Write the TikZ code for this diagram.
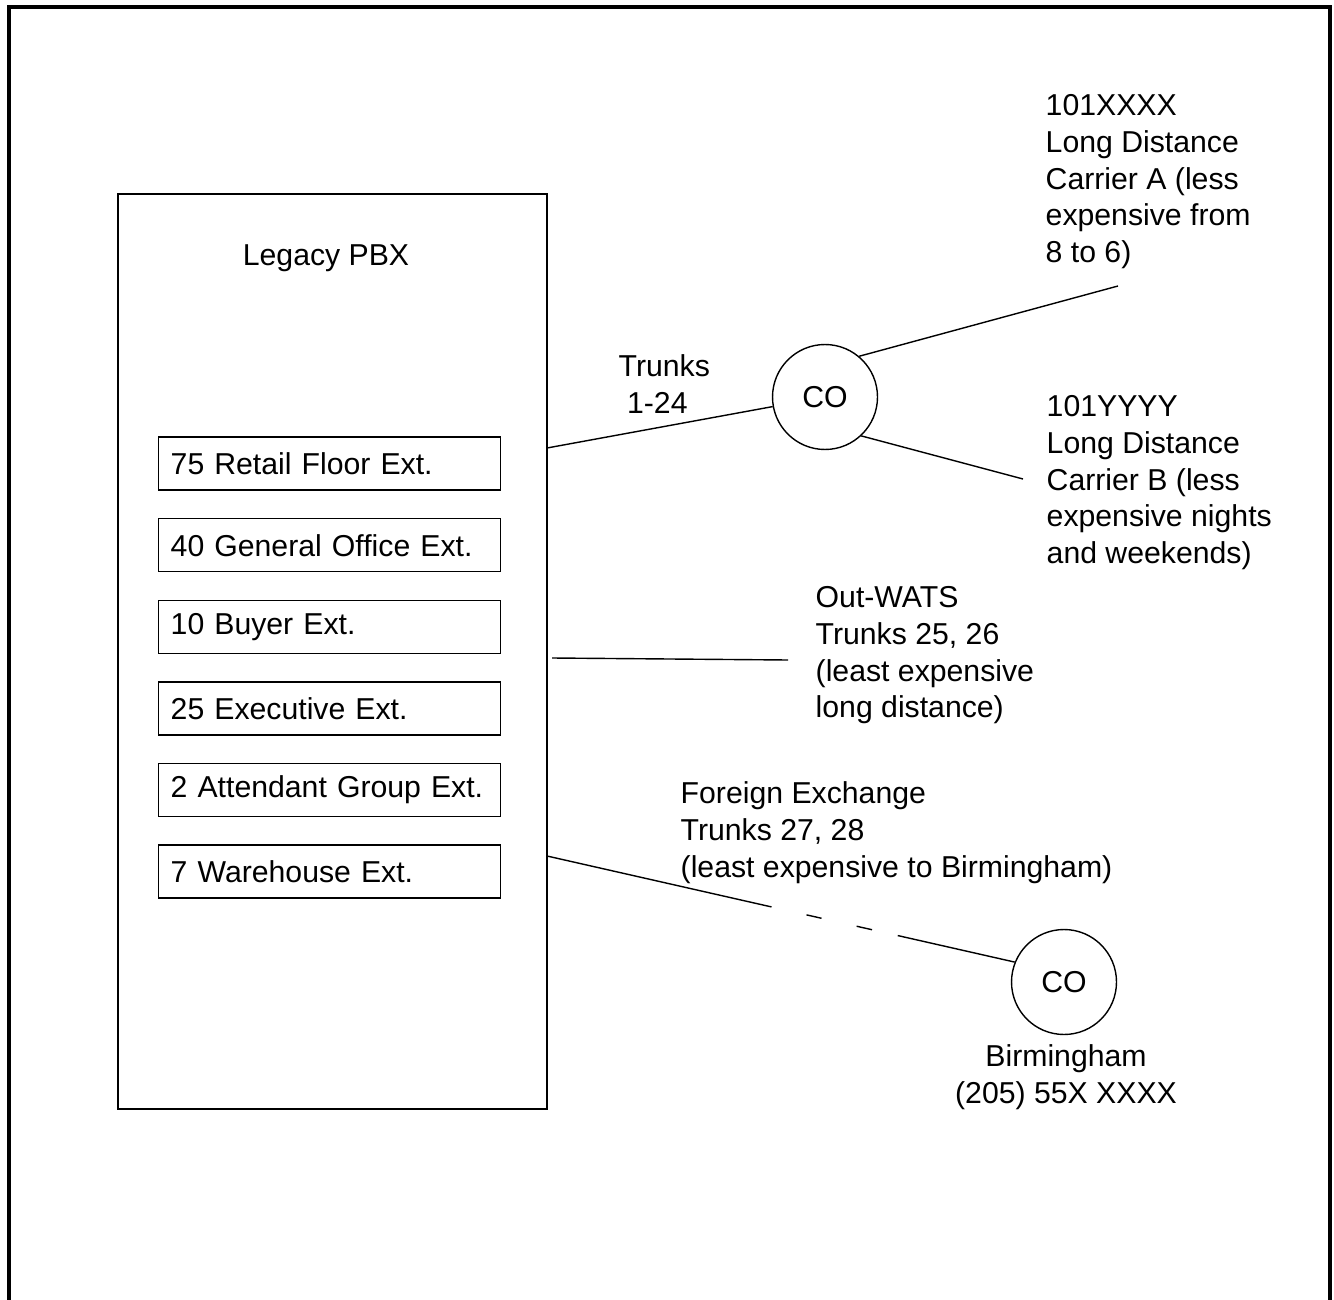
\documentclass[tikz,border=0pt]{standalone}
\usepackage{fontspec}
\setmainfont{Liberation Sans}
\usepackage{tikz}
\usetikzlibrary{positioning,calc}
\tikzset{%
  every ext/.style={
    draw,
    line width=0.8pt,
    anchor=west,
    minimum width=6.84cm,
    minimum height=1.06cm,
    inner xsep=0.24cm,
    text width=6.36cm,
    align=left
  },
  co node/.style={
    circle,
    draw,
    line width=0.8pt,
    inner sep=0pt,
    minimum size=2.1cm
  },
  line label/.style={
    anchor=north west,
    align=left,
    inner sep=0pt
  },
}

\begin{document}
\begin{tikzpicture}[x=0.02cm, y=-0.02cm, line width=0.8pt,
  font=\fontsize{17.2}{20.9}\selectfont]

\useasboundingbox (0,0) rectangle (1334,1300);

% outer frame
\draw [line width=1.9pt] (9,1300) -- (9,7) -- (1330,7) -- (1330,1300);

% PBX box
\draw (118,194) rectangle (547,1109);
\node (pbx) at (326,258) {Legacy PBX};

\foreach \l [count=\y] in {75 Retail Floor Ext.,40 General Office Ext.,10 Buyer Ext.,
    25 Executive Ext.,2 Attendant Group Ext.,7 Warehouse Ext.}
  \node [every ext/.try] (ext-\y) at (158,382+\y*81.6) {\l};

% central offices
\node [co node] (co-main) at (825,397) {CO};
\node [co node] (co-bham) at (1064,982) {CO};
\node [align=center, anchor=north] (bham) at (1066,1038) {Birmingham\\(205) 55X XXXX};

\coordinate (trunk-a) at (547,448);
\coordinate (end-a) at (1118,286);
\coordinate (end-b) at (1023,479);
\coordinate (wats-a) at (552,658);
\coordinate (wats-b) at (788,660);
\coordinate (fx-a) at (547,856);

\draw (trunk-a) -- (co-main);
\draw (co-main.50) -- (end-a);
\draw (co-main.-47) -- (end-b);
\draw (wats-a) -- (wats-b);

% foreign exchange, broken line
\draw (fx-a) -- ($(fx-a)!.48!(co-bham.158)$);
\draw ($(fx-a)!.555!(co-bham.158)$) -- ($(fx-a)!.587!(co-bham.158)$);
\draw ($(fx-a)!.662!(co-bham.158)$) -- ($(fx-a)!.695!(co-bham.158)$);
\draw ($(fx-a)!.75!(co-bham.158)$) -- (co-bham.158);

% labels
\node [line label] (trunks) at (618,354) {Trunks\\\ 1-24};
\node [line label] (carrier-a) at (1045,94) {101XXXX\\Long Distance\\Carrier A (less\\expensive from\\8 to 6)};
\node [line label] (carrier-b) at (1046,395) {101YYYY\\Long Distance\\Carrier B (less\\expensive nights\\and weekends)};
\node [line label] (wats) at (815,586) {Out-WATS\\Trunks 25, 26\\(least expensive\\long distance)};
\node [line label] (fx) at (680,781) {Foreign Exchange\\Trunks 27, 28\\(least expensive to Birmingham)};

\end{tikzpicture}
\end{document}
